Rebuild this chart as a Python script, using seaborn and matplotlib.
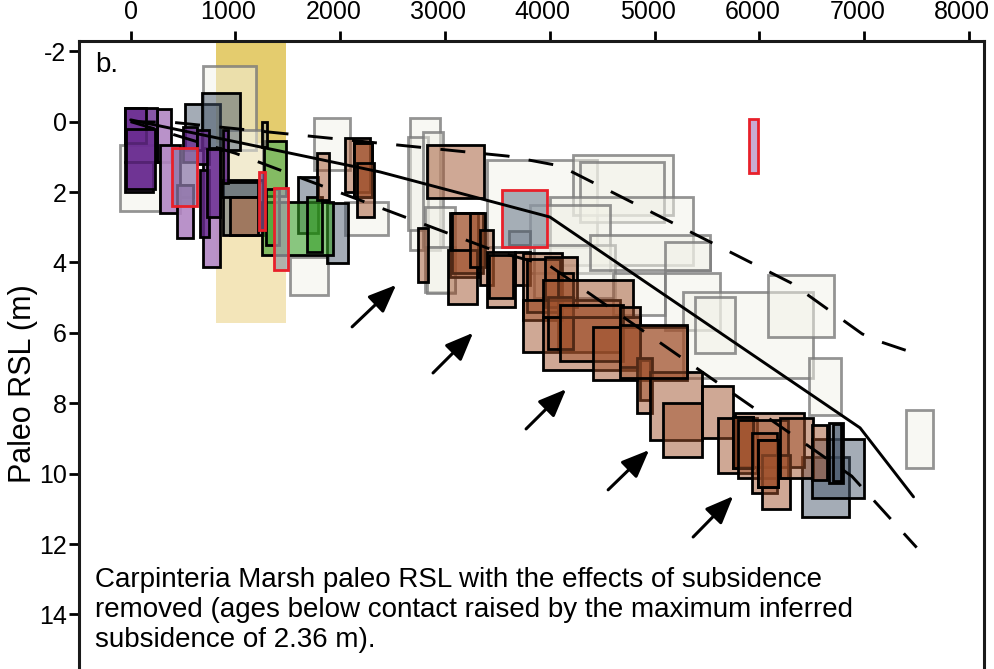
import numpy as np
import pandas as pd
import matplotlib
matplotlib.use('Agg')
import matplotlib.pyplot as plt
import matplotlib.transforms as mtransforms
import seaborn as sns

# Sample boxes: (age_min, age_max, rsl_top, rsl_bottom)
light_boxes = [
    (-102, 280, 0.66, 2.54), (690, 1196, -1.58, 0.80), (1749, 2093, -0.11, 1.37),
    (2045, 2455, 2.28, 3.22), (1520, 1882, 3.84, 4.92), (2665, 2952, -0.11, 3.65),
    (2646, 2837, 0.43, 3.08), (2790, 2980, 0.29, 3.56), (2808, 3095, 2.42, 4.84),
    (2827, 3095, 3.56, 4.87), (3400, 4448, 1.09, 3.56), (4220, 5174, 0.95, 2.65),
    (4286, 5088, 1.14, 2.85), (4000, 5364, 2.14, 4.07), (3810, 4573, 2.37, 4.30),
    (3850, 4620, 3.50, 5.00), (4381, 5527, 3.22, 4.22), (5097, 5527, 3.42, 4.22),
    (4601, 5097, 4.30, 5.50), (5097, 5622, 4.30, 5.92), (5269, 6510, 4.84, 7.28),
    (5383, 5765, 4.98, 6.57), (6081, 6711, 4.36, 6.12), (6472, 6778, 6.71, 8.33),
    (7398, 7656, 8.19, 9.84), (900, 1262, 0.24, 1.71),
]
gray_boxes = [
    (518, 852, -0.50, 0.80), (680, 1043, -0.82, 0.80), (881, 1262, 1.66, 3.22),
    (871, 1215, 1.71, 2.14), (442, 594, 1.80, 2.14), (1597, 1787, 1.57, 3.16),
    (1873, 2074, 2.31, 4.01), (3610, 3810, 3.10, 3.50), (6405, 6854, 9.53, 11.23),
    (6501, 6997, 9.02, 10.69), (6663, 6797, 8.56, 10.27), (6700, 6780, 8.6, 10.2),
]
purple_boxes = [
    (-54, 251, -0.39, 1.14), (-54, 214, 1.14, 2.00), (-54, 150, -0.39, 0.60),
    (-40, 230, 0.20, 1.90), (499, 633, 0.15, 1.14), (633, 747, 0.24, 1.20),
    (661, 747, 1.37, 3.28), (728, 852, 0.78, 2.71), (881, 928, 0.24, 1.74),
]
lilac_boxes = [
    (251, 385, -0.36, 1.14), (280, 470, 0.66, 2.60), (442, 594, 1.80, 3.30),
    (690, 852, 0.75, 4.13),
]
green_boxes = [
    (1272, 1482, 0.55, 2.11), (1253, 1930, 2.28, 3.79), (1683, 1825, 2.14, 3.70),
    (1290, 1420, 1.90, 3.50),
]
brown_boxes = [
    (950, 1215, 2.14, 3.22), (1778, 1892, 0.89, 2.22), (2045, 2283, 0.46, 2.00),
    (2131, 2302, 0.61, 2.14), (2131, 2302, 0.61, 2.14), (2159, 2321, 1.17, 2.71),
    (2741, 2837, 3.02, 4.55), (2827, 3371, 0.66, 2.17), (3047, 3314, 2.59, 4.41),
    (3066, 3360, 2.60, 4.30), (3028, 3305, 3.65, 5.18), (3238, 3381, 2.59, 4.13),
    (3333, 3457, 3.08, 4.64), (3400, 3667, 3.70, 5.27), (3420, 3650, 3.80, 5.00),
    (3667, 3810, 3.70, 4.64), (3743, 4115, 3.73, 5.63), (3780, 4100, 3.90, 5.40),
    (3953, 4258, 3.84, 5.27), (4076, 4220, 4.30, 6.49), (3743, 4668, 5.07, 6.54),
    (3934, 4859, 5.55, 7.05), (3981, 4220, 4.98, 6.46), (3934, 4792, 4.50, 5.55),
    (4100, 4700, 5.20, 6.80), (4410, 5307, 5.83, 7.34), (4668, 4859, 5.27, 6.97),
    (4859, 4954, 6.77, 7.91), (4830, 4973, 6.71, 8.28), (4954, 5450, 7.11, 9.04),
    (4668, 5307, 5.78, 7.28), (5078, 5450, 7.99, 9.53), (5450, 5746, 7.51, 8.99),
    (5603, 5975, 8.42, 9.98), (5765, 6424, 8.28, 9.81), (5746, 5937, 8.39, 9.84),
    (5746, 5937, 8.39, 9.84), (5794, 6271, 8.47, 10.12), (5928, 6167, 8.84, 10.55),
    (6023, 6291, 9.47, 11.00), (5985, 6176, 9.04, 10.38), (5985, 6176, 9.04, 10.38),
    (6195, 6510, 8.42, 10.12), (6501, 6644, 8.62, 10.18),
]
red_boxes = [
    (394, 633, 0.75, 2.40, '#8c78a8'), (1225, 1280, 1.43, 3.08, '#7a4f86'),
    (1367, 1501, 1.88, 4.22, '#9aa0a6'), (5900, 5985, -0.07, 1.46, '#b68fc4'),
    (3543, 3972, 1.94, 3.56, '#8a95a2'),
]
thin_box = [(1255, 1300, 0.00, 0.72)]

# Curves
solid_age = [0, 2380, 4000, 6960, 7470]
solid_rsl = [-0.05, 1.43, 2.71, 8.70, 10.66]
upper_age = [0, 400, 3600, 4100, 6300, 6980, 7120, 7470]
upper_rsl = [0.0, 0.02, 0.98, 1.26, 4.58, 6.03, 6.22, 6.57]
lower_age = [0, 1000, 3500, 4000, 6880, 7500]
lower_rsl = [0.0, 0.9, 3.7, 4.1, 10.07, 12.1]

# Arrows (tail -> head)
arrow_tail = [(2113, 5.83), (2885, 7.14), (3773, 8.73), (4556, 10.46), (5367, 11.8)]
arrow_head = [(2533, 4.64), (3267, 6.00), (4155, 7.60), (4947, 9.33), (5749, 10.64)]

band_age = (814, 1482)
band_dark = (-2.4, 0.6)
band_light = (0.6, 5.72)

sns.set_style('ticks')
plt.rcParams['font.family'] = ['Liberation Sans', 'DejaVu Sans']
plt.rcParams['lines.scale_dashes'] = False
plt.rcParams['axes.unicode_minus'] = False
for k in ['text.color', 'axes.labelcolor', 'xtick.color', 'ytick.color']:
    plt.rcParams[k] = 'black'

fig = plt.figure(figsize=(9.95, 6.69), dpi=100)
ax = fig.add_axes([0.0794, 0.0, 0.9095, 0.9387])


def draw(boxes, face, alpha, edge, lw, z, edge_alpha=1.0):
    b = np.array([r[:4] for r in boxes], dtype=float)
    bars = ax.bar(b[:, 0], b[:, 3] - b[:, 2], width=b[:, 1] - b[:, 0], bottom=b[:, 2],
                  align='edge', color=face, zorder=z)
    for p in bars:
        p.set_facecolor(matplotlib.colors.to_rgba(face, alpha))
        p.set_edgecolor(matplotlib.colors.to_rgba(edge, edge_alpha))
        p.set_linewidth(lw)
    return bars


# yellow band
ax.bar(band_age[0], band_dark[1] - band_dark[0], width=band_age[1] - band_age[0],
       bottom=band_dark[0], align='edge', color='#e4cc6e', linewidth=0, zorder=1)
ax.bar(band_age[0], band_light[1] - band_light[0], width=band_age[1] - band_age[0],
       bottom=band_light[0], align='edge', color='#f3e5b9', linewidth=0, zorder=1)

draw(light_boxes, '#f2f2e8', 0.5, '#7a7a7a', 2.0, 2, edge_alpha=0.8)
draw(gray_boxes, '#4a5a6e', 0.5, 'black', 2.0, 3)
draw(lilac_boxes, '#b68cc6', 0.95, 'black', 2.0, 3)
draw(purple_boxes, '#6a2c91', 0.8, 'black', 2.0, 3)
draw(green_boxes, '#3aa02a', 0.6, 'black', 2.0, 3)
draw(brown_boxes, '#a0522d', 0.5, 'black', 2.0, 4)
draw(thin_box, '#b0b0a0', 0.6, 'black', 2.0, 4)
for r in red_boxes:
    draw([r], r[4], 0.75, '#e8202a', 2.0, 5)

sns.lineplot(x=solid_age, y=solid_rsl, sort=False, estimator=None, color='black',
             linewidth=2.1, ax=ax, zorder=6)
sns.lineplot(x=upper_age, y=upper_rsl, sort=False, estimator=None, color='black',
             linewidth=2.1, ax=ax, zorder=6).lines[-1].set_dashes((18, 14))
sns.lineplot(x=lower_age, y=lower_rsl, sort=False, estimator=None, color='black',
             linewidth=2.1, ax=ax, zorder=6).lines[-1].set_dashes((18, 14))

for t, h in zip(arrow_tail, arrow_head):
    ax.annotate('', xy=h, xytext=t,
                arrowprops=dict(arrowstyle='-|>,head_length=1.7,head_width=0.7',
                                color='black', lw=2.2, shrinkA=0, shrinkB=0),
                zorder=7)

ax.set_xlim(-493, 8142)
ax.set_ylim(15.55, -2.29)
ax.xaxis.tick_top()
ax.set_xticks(range(0, 8001, 1000))
ax.set_yticks(range(-2, 15, 2))
ax.tick_params(axis='both', direction='out', length=7, width=2, labelsize=18,
               color='black')
ax.tick_params(axis='x', pad=5)
ax.tick_params(axis='y', pad=2)
# the four-digit age labels sit a little left of their ticks
shift = mtransforms.ScaledTranslation(-0.07, 0, fig.dpi_scale_trans)
for lab in ax.get_xticklabels()[1:]:
    lab.set_transform(lab.get_transform() + shift)
for s in ['top', 'left', 'right']:
    ax.spines[s].set_linewidth(2.2)
    ax.spines[s].set_color('#1a1a1a')
ax.spines['bottom'].set_visible(False)

ax.set_ylabel('Paleo RSL (m)', fontsize=22)
ax.yaxis.set_label_coords(-0.045, 0.454)
ax.set_xlabel('')

ax.text(-340, -1.6, 'b.', fontsize=20, va='center', ha='left')
ax.text(-340, 12.65,
        'Carpinteria Marsh paleo RSL with the effects of subsidence\n'
        'removed (ages below contact raised by the maximum inferred\n'
        'subsidence of 2.36 m).',
        fontsize=20, va='top', ha='left', linespacing=1.2)

fig.savefig('out.png', dpi=100)
